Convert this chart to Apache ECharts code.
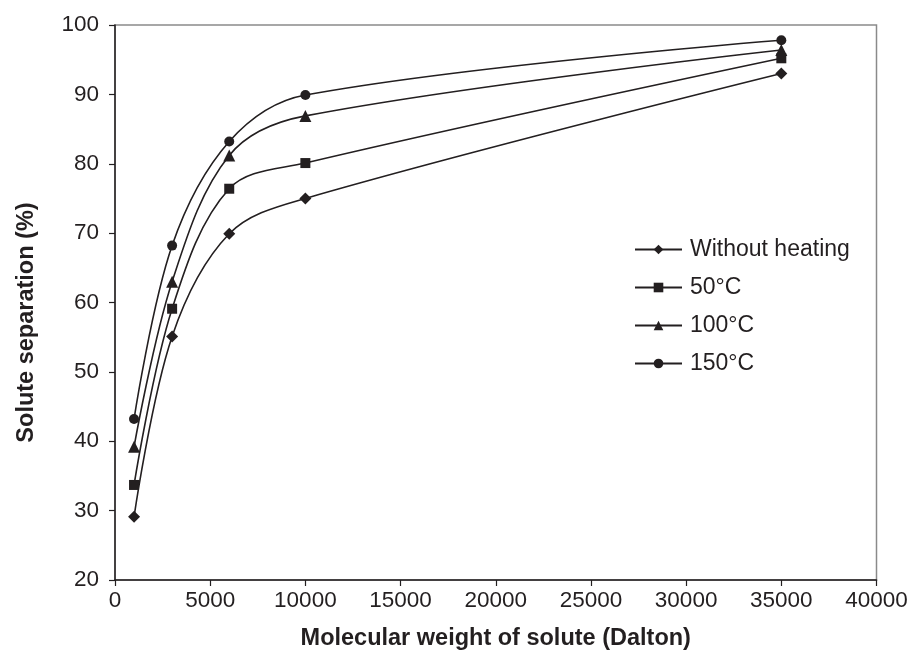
<!DOCTYPE html>
<html>
<head>
<meta charset="utf-8">
<script src="https://cdn.jsdelivr.net/npm/echarts@6/dist/echarts.min.js"></script>
<style>html,body{margin:0;padding:0;background:#fff;}#c{width:911px;height:652px;}</style>
</head>
<body>
<div id="c"></div>
<script>
const xValues = [1000, 3000, 6000, 10000, 35000];
const seriesNames = ['Without heating', '50\u00B0C', '100\u00B0C', '150\u00B0C'];
const withoutHeating = [29.1, 55.1, 69.9, 75.0, 93.0];
const heat50 = [33.7, 59.1, 76.4, 80.1, 95.2];
const heat100 = [39.2, 63.0, 81.2, 86.9, 96.4];
const heat150 = [43.2, 68.2, 83.2, 89.9, 97.8];
const symbols = ['diamond', 'rect', 'triangle', 'circle'];
const symbolSizes = [12, 10, 12, 10];
const seriesValues = [withoutHeating, heat50, heat100, heat150];

const font = '"Liberation Sans", Arial, sans-serif';
const chart = echarts.init(document.getElementById('c'), null, {renderer: 'canvas'});
chart.setOption({
  animation: false,
  backgroundColor: '#fff',
  grid: {left: 115, right: 34.5, top: 25, bottom: 72, containLabel: false, outerBoundsMode: 'none', show: true, borderColor: '#8a8a8a', borderWidth: 1.5, backgroundColor: 'transparent'},
  legend: {
    orient: 'vertical',
    left: 629, top: 233,
    itemWidth: 47, itemHeight: 12, itemGap: 15,
    textStyle: {fontFamily: font, fontSize: 23, color: '#231f20', padding: [0, 0, 0, 3]},
    data: seriesNames
  },
  xAxis: {
    type: 'value', min: 0, max: 40000, interval: 5000,
    name: 'Molecular weight of solute (Dalton)', nameLocation: 'middle', nameGap: 47,
    nameTextStyle: {fontFamily: font, fontSize: 23.5, fontWeight: 'bold', color: '#231f20'},
    axisLine: {show: true, lineStyle: {color: '#231f20', width: 1.5}},
    axisTick: {show: true, inside: false, length: 6, lineStyle: {color: '#231f20', width: 1.2}},
    axisLabel: {fontFamily: font, fontSize: 22.5, color: '#231f20', margin: 9, formatter: v => String(v)},
    splitLine: {show: false}
  },
  yAxis: {
    type: 'value', min: 20, max: 100, interval: 10,
    name: 'Solute separation (%)', nameLocation: 'middle', nameGap: 76, nameRotate: 90,
    nameTextStyle: {fontFamily: font, fontSize: 23.5, fontWeight: 'bold', color: '#231f20', padding: [0, 40, 0, 0]},
    axisLine: {show: true, lineStyle: {color: '#231f20', width: 1.5}},
    axisTick: {show: true, inside: false, length: 6, lineStyle: {color: '#231f20', width: 1.2}},
    axisLabel: {fontFamily: font, fontSize: 22.5, color: '#231f20', margin: 16},
    splitLine: {show: false}
  },
  series: seriesNames.map((name, i) => ({
    name: name,
    type: 'line',
    smooth: 0.35,
    data: xValues.map((x, j) => [x, seriesValues[i][j]]),
    symbol: symbols[i],
    symbolSize: symbolSizes[i],
    showAllSymbol: true,
    lineStyle: {color: '#231f20', width: 1.6},
    itemStyle: {color: '#231f20', borderWidth: 0},
    z: 3
  }))
});
</script>
</body>
</html>
